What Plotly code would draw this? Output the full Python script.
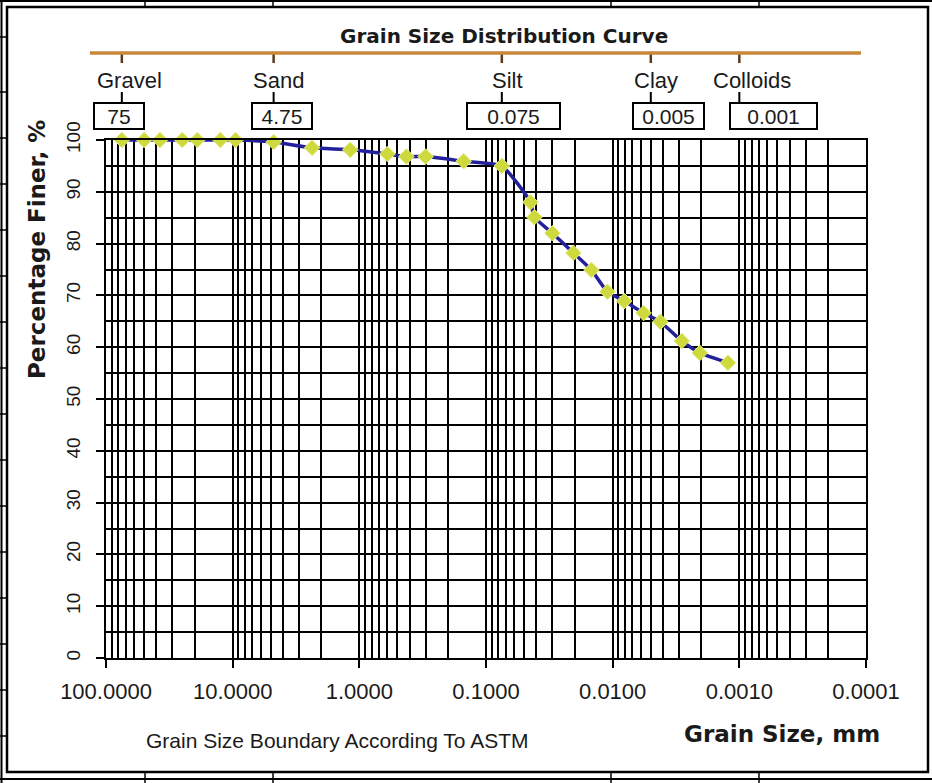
import plotly.graph_objects as go

# ---------------- data ----------------
grain_size_mm = [75, 50, 37.5, 25, 19, 12.5, 9.5, 4.75, 2.36, 1.18, 0.6, 0.425, 0.3,
                 0.15, 0.075, 0.0446, 0.0415, 0.0299, 0.0204, 0.0147, 0.0110, 0.0081,
                 0.0057, 0.0042, 0.00285, 0.00205, 0.00123]
percent_finer = [100, 100, 100, 100, 100, 100, 100, 99.6, 98.5, 98.1, 97.3, 96.8, 96.8,
                 95.9, 95.0, 88.0, 85.1, 82.0, 78.2, 74.9, 70.7, 68.9, 66.6, 64.9,
                 61.2, 58.9, 57.0]

x_tick_vals = [100, 10, 1, 0.1, 0.01, 0.001, 0.0001]
x_tick_text = ["100.0000", "10.0000", "1.0000", "0.1000", "0.0100", "0.0010", "0.0001"]
y_tick_vals = [0, 10, 20, 30, 40, 50, 60, 70, 80, 90, 100]

soil_names = ["Gravel", "Sand", "Silt", "Clay", "Colloids"]
soil_bounds = [75, 4.75, 0.075, 0.005, 0.001]
soil_bound_text = ["75", "4.75", "0.075", "0.005", "0.001"]

# ---------------- layout geometry ----------------
W, H = 932, 783
ML, MR, MT, MB = 106, 66, 40, 125
PW, PH = W - ML - MR, H - MT - MB          # paper area (includes header strip)
PLOT_TOP = 140                              # pixel row of the 100 % line
MAIN_TOP = (MT + PH - PLOT_TOP) / PH        # top of main y domain


def px(x):
    return (x - ML) / PW


def py(y):
    return (MT + PH - y) / PH


def strip_y(y):
    # header strip axis: 1 unit per pixel above the plot top
    return PLOT_TOP - y


minor_x = [k * 10.0 ** e for e in range(-4, 2) for k in range(2, 10)]

fig = go.Figure()
fig.add_trace(go.Scatter(
    x=grain_size_mm, y=percent_finer, mode="lines+markers",
    line=dict(color="#23209c", width=3.5, shape="spline", smoothing=0.5),
    marker=dict(symbol="diamond", size=12, color="#cdd93c",
                line=dict(color="#e4ea7a", width=1)),
    cliponaxis=False, showlegend=False, hoverinfo="skip",
))

# boundary tick marks under the orange bar and above the value boxes (header strip)
tx, ty1, ty2 = [], [], []
for b in soil_bounds:
    tx += [b, b, None]
    ty1 += [strip_y(54), strip_y(63), None]
    ty2 += [strip_y(92), strip_y(102), None]
fig.add_trace(go.Scatter(x=tx, y=ty1, xaxis="x2", yaxis="y2", mode="lines",
                         line=dict(color="#5a3a1a", width=2.5),
                         showlegend=False, hoverinfo="skip", cliponaxis=False))
fig.add_trace(go.Scatter(x=tx, y=ty2, xaxis="x2", yaxis="y2", mode="lines",
                         line=dict(color="black", width=2),
                         showlegend=False, hoverinfo="skip", cliponaxis=False))

fig.update_layout(
    xaxis=dict(
        type="log", range=[2, -4], tickmode="array", tickvals=x_tick_vals, ticktext=x_tick_text,
        ticks="outside", ticklen=8, tickwidth=2, tickcolor="black",
        showgrid=True, gridcolor="black", gridwidth=1.8,
        minor=dict(tickmode="array", tickvals=minor_x, showgrid=True, gridcolor="black",
                   gridwidth=1.8, ticks=""),
        showline=True, mirror=True, linecolor="black", linewidth=2,
        tickfont=dict(family="Liberation Sans, Arial", size=22, color="#1a1a1a"),
        ticklabelstandoff=5, zeroline=False, anchor="y",
    ),
    yaxis=dict(
        domain=[0, MAIN_TOP], range=[0, 100], tickmode="array", tickvals=y_tick_vals,
        tickangle=-90, ticks="outside", ticklen=8, tickwidth=2, tickcolor="black",
        showgrid=True, gridcolor="black", gridwidth=1.8,
        minor=dict(dtick=5, showgrid=True, gridcolor="black", gridwidth=1.8, ticks=""),
        showline=True, mirror=True, linecolor="black", linewidth=2,
        tickfont=dict(family="Liberation Sans, Arial", size=19, color="#1a1a1a"),
        ticklabelstandoff=8, zeroline=False, anchor="x",
    ),
    xaxis2=dict(type="log", range=[2, -4], anchor="y2", visible=False),
    yaxis2=dict(domain=[MAIN_TOP, 1], range=[0, PLOT_TOP - MT], anchor="x2", visible=False),
)

shapes = []
annotations = []

# outer chart frame and spreadsheet cell borders
shapes.append(dict(type="rect", xref="paper", yref="paper", x0=px(7), x1=px(928),
                   y0=py(7), y1=py(772), line=dict(color="black", width=2.5)))
shapes.append(dict(type="line", xref="paper", yref="paper", x0=px(1.5), x1=px(1.5),
                   y0=py(0), y1=py(783), line=dict(color="black", width=2)))
shapes.append(dict(type="line", xref="paper", yref="paper", x0=px(0), x1=px(932),
                   y0=py(1), y1=py(1), line=dict(color="black", width=2)))
shapes.append(dict(type="line", xref="paper", yref="paper", x0=px(0), x1=px(932),
                   y0=py(779), y1=py(779), line=dict(color="black", width=2)))
for yy in [37, 92, 138, 184, 230, 276, 322, 368, 414, 460, 506, 552, 598, 644, 690, 736]:
    shapes.append(dict(type="line", xref="paper", yref="paper", x0=px(0), x1=px(7),
                       y0=py(yy), y1=py(yy), line=dict(color="black", width=1.5)))
for xx in [145, 273, 611, 759]:
    shapes.append(dict(type="line", xref="paper", yref="paper", x0=px(xx), x1=px(xx),
                       y0=py(0), y1=py(7), line=dict(color="black", width=1.5)))
    shapes.append(dict(type="line", xref="paper", yref="paper", x0=px(xx), x1=px(xx),
                       y0=py(772), y1=py(783), line=dict(color="black", width=1.5)))

# orange classification bar
shapes.append(dict(type="line", xref="paper", yref="paper", x0=px(90), x1=px(861),
                   y0=py(53), y1=py(53), line=dict(color="#c8873a", width=3.5)))

# title
annotations.append(dict(text="<b>Grain Size Distribution Curve</b>", xref="paper", yref="paper",
                        x=px(504), y=py(36), showarrow=False, xanchor="center", yanchor="middle",
                        font=dict(family="DejaVu Sans", size=20, color="#1a1a1a")))

# soil class labels
label_cx = [129, 278, 507, 656, 752]
for name, cx in zip(soil_names, label_cx):
    annotations.append(dict(text=name, xref="paper", yref="paper", x=px(cx), y=py(80),
                            showarrow=False, xanchor="center", yanchor="middle",
                            font=dict(family="Liberation Sans, Arial", size=22, color="#1a1a1a")))

# boundary value boxes
box_x = [(93, 145), (251, 313), (466, 561), (632, 705), (729, 818)]
for txt, (x0, x1) in zip(soil_bound_text, box_x):
    annotations.append(dict(text=txt, xref="paper", yref="paper", x=px((x0 + x1) / 2), y=py(116),
                            showarrow=False, xanchor="center", yanchor="middle",
                            width=x1 - x0 - 4, height=24, borderpad=0, borderwidth=2,
                            bordercolor="black", bgcolor="white", align="center",
                            font=dict(family="Liberation Sans, Arial", size=21, color="#1a1a1a")))

# axis titles
annotations.append(dict(text="<b>Percentage Finer, %</b>", xref="paper", yref="paper",
                        x=px(37), y=py(250), showarrow=False, textangle=-90,
                        xanchor="center", yanchor="middle",
                        font=dict(family="DejaVu Sans", size=23, color="#1a1a1a")))
annotations.append(dict(text="<b>Grain Size, mm</b>", xref="paper", yref="paper",
                        x=px(782), y=py(734), showarrow=False, xanchor="center", yanchor="middle",
                        font=dict(family="DejaVu Sans", size=23, color="#1a1a1a")))
annotations.append(dict(text="Grain Size Boundary According To ASTM", xref="paper", yref="paper",
                        x=px(337), y=py(740), showarrow=False, xanchor="center", yanchor="middle",
                        font=dict(family="Liberation Sans, Arial", size=21, color="#1a1a1a")))

fig.update_layout(
    width=W, height=H, margin=dict(l=ML, r=MR, t=MT, b=MB, pad=0),
    paper_bgcolor="white", plot_bgcolor="white",
    shapes=shapes, annotations=annotations, showlegend=False,
)

fig.write_html("out.html", config={"displayModeBar": False},
               post_script="document.body.style.margin='0';document.body.style.overflow='hidden';")
